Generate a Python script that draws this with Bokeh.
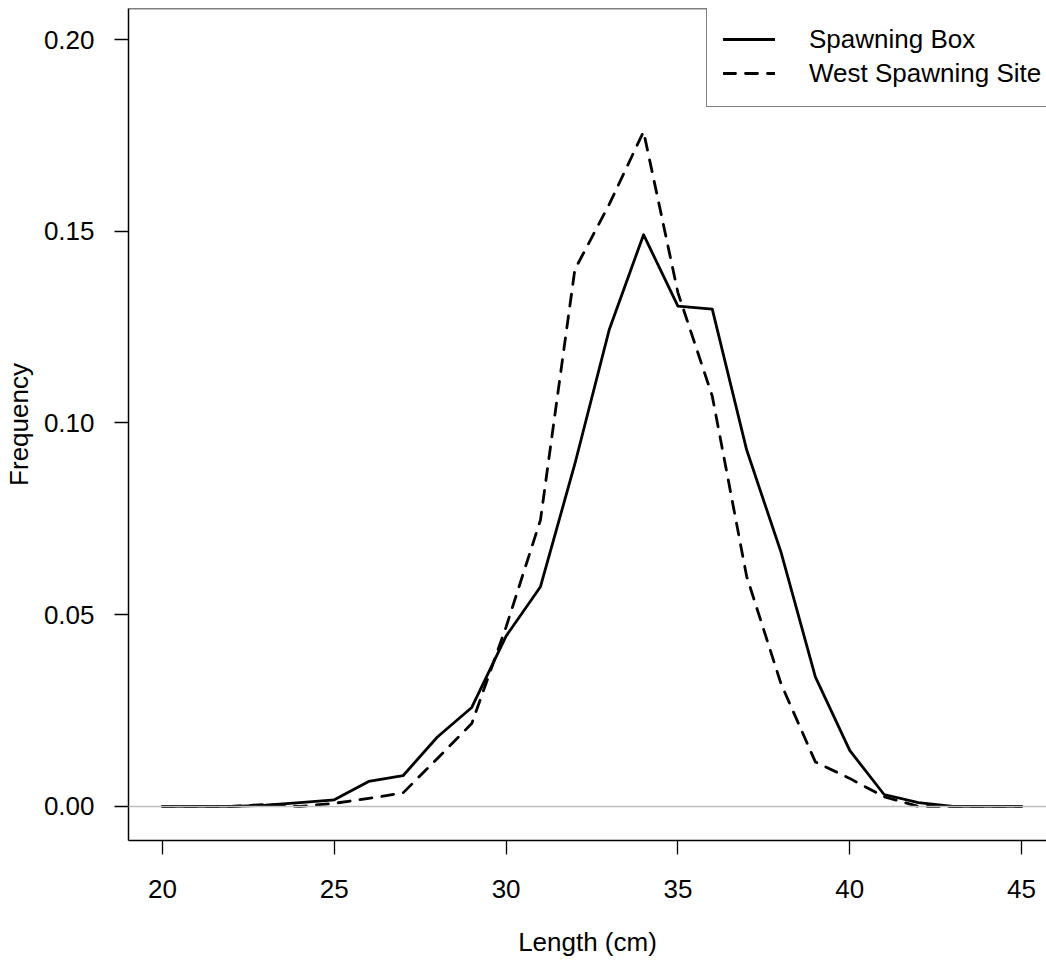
from bokeh.plotting import figure
from bokeh.models import (Range1d, FixedTicker, NumeralTickFormatter, Span,
                          Legend, LegendItem, ColumnDataSource)
from bokeh.embed import file_html
from bokeh.resources import INLINE

# ---- data ----
lengths = list(range(20, 46))
spawning_box = [0.0, 0.0, 0.0, 0.0003, 0.001, 0.0017, 0.0065, 0.008, 0.0181, 0.0258,
                0.0444, 0.0573, 0.0893, 0.1243, 0.1491, 0.1305, 0.1297, 0.093, 0.0663,
                0.0338, 0.0146, 0.0031, 0.001, 0.0, 0.0, 0.0]
west_site = [0.0, 0.0, 0.0, 0.0005, 0.0, 0.0008, 0.0021, 0.0035, 0.0125, 0.0216,
             0.0468, 0.0747, 0.140, 0.157, 0.176, 0.134, 0.107, 0.060, 0.032,
             0.0116, 0.0073, 0.0025, 0.0, 0.0, 0.0, 0.0]
x_ticks = [20, 25, 30, 35, 40, 45]
y_ticks = [0.00, 0.05, 0.10, 0.15, 0.20]
series_names = ["Spawning Box", "West Spawning Site"]

FONT = "Liberation Sans"
Y_TOP = 0.2081

p = figure(width=1046, height=972, output_backend="svg", toolbar_location=None,
           x_range=Range1d(19.0105, 45.727), y_range=Range1d(-0.0089, Y_TOP),
           min_border_left=128, min_border_right=0, min_border_top=8,
           min_border_bottom=132)
p.outline_line_color = None
p.xgrid.visible = False
p.ygrid.visible = False
p.background_fill_color = "white"
p.border_fill_color = "white"

# zero reference line
p.add_layout(Span(location=0, dimension="width", line_color="#bebebe", line_width=1.5))
# top of the box
p.add_layout(Span(location=Y_TOP, dimension="width", line_color="black", line_width=1.5))

src = ColumnDataSource(dict(x=lengths, a=spawning_box, b=west_site))
r1 = p.line("x", "a", source=src, line_color="black", line_width=2.8,
            line_join="round", line_cap="round")
r2 = p.line("x", "b", source=src, line_color="black", line_width=2.8,
            line_dash="12 10", line_join="round", line_cap="round")

for ax in (p.xaxis[0], p.yaxis[0]):
    ax.axis_line_color = "black"
    ax.axis_line_width = 1.5
    ax.major_tick_line_color = "black"
    ax.major_tick_line_width = 1.3
    ax.major_tick_in = 0
    ax.major_tick_out = 14
    ax.minor_tick_line_color = None
    ax.major_label_text_font = FONT
    ax.major_label_text_font_size = "26px"
    ax.major_label_text_color = "black"
    ax.axis_label_text_font = FONT
    ax.axis_label_text_font_size = "26px"
    ax.axis_label_text_font_style = "normal"
    ax.axis_label_text_color = "black"

p.xaxis[0].ticker = FixedTicker(ticks=x_ticks)
p.xaxis[0].major_label_standoff = 25
p.xaxis[0].axis_label = "Length (cm)"
p.xaxis[0].axis_label_standoff = 26

p.yaxis[0].ticker = FixedTicker(ticks=y_ticks)
p.yaxis[0].formatter = NumeralTickFormatter(format="0.00")
p.yaxis[0].major_label_orientation = "horizontal"
p.yaxis[0].major_label_standoff = 20
p.yaxis[0].axis_label = "Frequency"
p.yaxis[0].axis_label_standoff = 7

legend = Legend(items=[LegendItem(label=series_names[0], renderers=[r1]),
                       LegendItem(label=series_names[1], renderers=[r2])],
                location=(578, 733), margin=0, padding=16, spacing=0,
                glyph_width=52, glyph_height=34, label_height=34,
                label_standoff=34, label_width=260,
                label_text_font=FONT, label_text_font_size="26px",
                label_text_color="black",
                border_line_color="black", border_line_width=1.5,
                background_fill_color="white", background_fill_alpha=1.0)
p.add_layout(legend)

open("out.html", "w").write(file_html(p, INLINE))
